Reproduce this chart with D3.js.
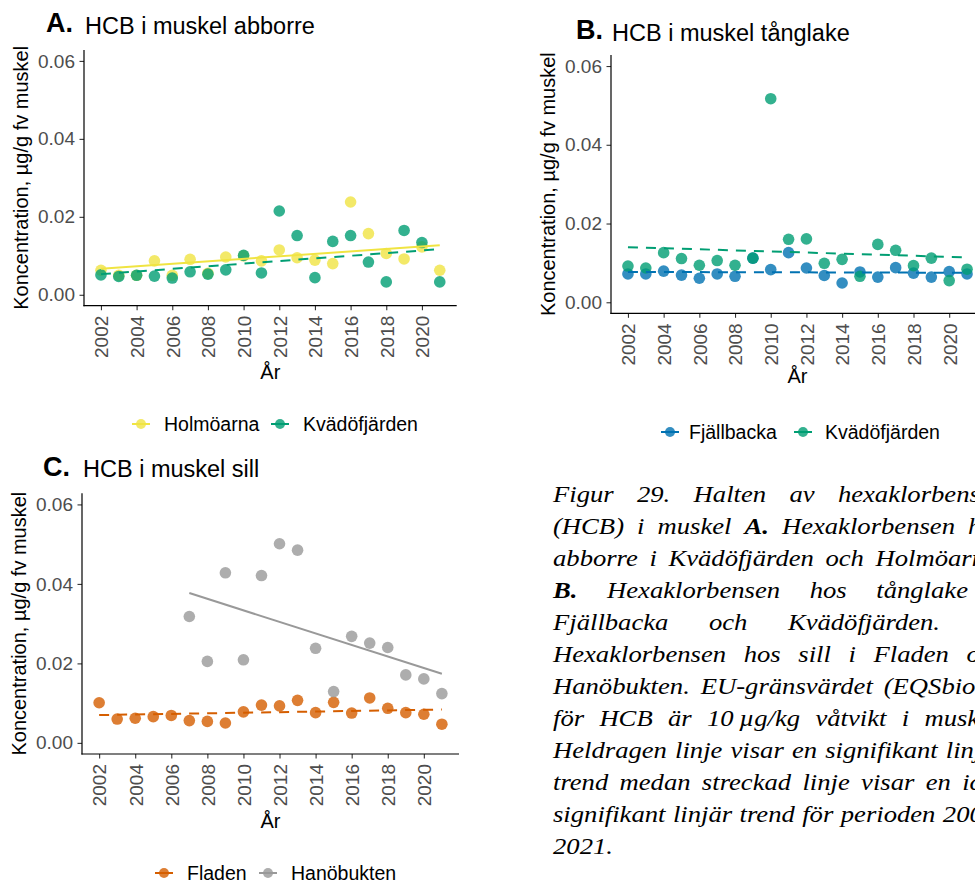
<!DOCTYPE html>
<html>
<head>
<meta charset="utf-8">
<script src="https://cdn.jsdelivr.net/npm/d3@7"></script>
<style>
html,body{margin:0;padding:0;background:#fff;overflow:hidden;}
svg{display:block;}
</style>
</head>
<body>
<script>
// ---------------- DATA ----------------
const years = [2002,2003,2004,2005,2006,2007,2008,2009,2010,2011,2012,2013,2014,2015,2016,2017,2018,2019,2020,2021];
const xTickValues = [2002,2004,2006,2008,2010,2012,2014,2016,2018,2020];
const yTickValues = [0.00,0.02,0.04,0.06];

// A. abborre
const abborreHolmoarna   = [0.0063,0.0050,0.0050,0.0087,0.0050,0.0091,0.0055,0.0097,0.0100,0.0087,0.0115,0.0095,0.0089,0.0080,0.0238,0.0157,0.0106,0.0092,0.0123,0.0063];
const abborreKvadofjarden= [0.0051,0.0047,0.0050,0.0048,0.0043,0.0059,0.0053,0.0064,0.0101,0.0056,0.0215,0.0152,0.0044,0.0137,0.0152,0.0084,0.0033,0.0165,0.0134,0.0033];
const trendAbborreHolmoarna    = [0.0067,0.0127];
const trendAbborreKvadofjarden = [0.0053,0.0117];

// B. tånglake
const tanglakeFjallbacka   = [0.0072,0.0072,0.0079,0.0069,0.0061,0.0072,0.0066,0.0112,0.0083,0.0126,0.0087,0.0068,0.0049,0.0077,0.0064,0.0088,0.0074,0.0064,0.0078,0.0072];
const tanglakeKvadofjarden = [0.0092,0.0087,0.0126,0.0111,0.0094,0.0106,0.0094,0.0112,0.0517,0.0160,0.0161,0.0099,0.0109,0.0066,0.0147,0.0132,0.0093,0.0112,0.0055,0.0084];
const trendTanglakeFjallbacka   = [0.0077,0.0075];
const trendTanglakeKvadofjarden = [0.0140,0.0114];

// C. sill
const sillFladen     = [0.0101,0.0060,0.0062,0.0066,0.0069,0.0056,0.0054,0.0050,0.0078,0.0095,0.0093,0.0107,0.0076,0.0102,0.0075,0.0113,0.0087,0.0076,0.0072,0.0047];
const sillHanobukten = [null,null,null,null,null,0.0318,0.0205,0.0428,0.0209,0.0421,0.0501,0.0485,0.0238,0.0129,0.0268,0.0251,0.0240,0.0171,0.0161,0.0124];
const trendSillFladen     = [0.0070,0.0084];
const trendSillHanobukten = [0.0377,0.0174];
const trendYearsFull = [2002,2021];
const trendYearsHano = [2007,2021];

const yAxisTitle = "Koncentration, µg/g fv muskel";
const xAxisTitle = "År";

const captionLines = [
  [["Figur 29. Halten av hexaklorbensen",0]],
  [["(HCB) i muskel ",0],["A.",1],[" Hexaklorbensen hos",0]],
  [["abborre i Kvädöfjärden och Holmöarna.",0]],
  [["B.",1],[" Hexaklorbensen hos tånglake i",0]],
  [["Fjällbacka och Kvädöfjärden. ",0],["C.",1]],
  [["Hexaklorbensen hos sill i Fladen och",0]],
  [["Hanöbukten. EU-gränsvärdet (EQSbiota)",0]],
  [["för HCB är 10\u2009µg/kg våtvikt i muskel.",0]],
  [["Heldragen linje visar en signifikant linjär",0]],
  [["trend medan streckad linje visar en icke",0]],
  [["signifikant linjär trend för perioden 2002-",0]],
  [["2021.",0]]
];

// ---------------- STYLE ----------------
const COL = {yellow:"#F0E442", green:"#009E73", blue:"#0072B2", orange:"#D55E00", gray:"#999999"};
const SANS = "'Liberation Sans', Arial, sans-serif";
const SERIF = "'Liberation Serif', 'Times New Roman', serif";

const panels = [
  {letter:"A.", title:"HCB i muskel abborre", left:84, right:456.7, top:50, bottom:305.7,
   letterX:46, letterY:32, titleX:85, titleY:34.3, yTitleX:27.5, xTitleY:379,
   series:[
     {name:"Holmöarna", values:abborreHolmoarna, color:COL.yellow, trend:trendAbborreHolmoarna, trendYears:trendYearsFull, dashed:false},
     {name:"Kvädöfjärden", values:abborreKvadofjarden, color:COL.green, trend:trendAbborreKvadofjarden, trendYears:trendYearsFull, dashed:true}
   ],
   legendY:424, legendKeys:[141,280], legendTexts:[164,303]},
  {letter:"B.", title:"HCB i muskel tånglake", left:611, right:984, top:55, bottom:313.3,
   letterX:576, letterY:39, titleX:612, titleY:40.7, yTitleX:554.5, xTitleY:383.3,
   series:[
     {name:"Fjällbacka", values:tanglakeFjallbacka, color:COL.blue, trend:trendTanglakeFjallbacka, trendYears:trendYearsFull, dashed:true},
     {name:"Kvädöfjärden", values:tanglakeKvadofjarden, color:COL.green, trend:trendTanglakeKvadofjarden, trendYears:trendYearsFull, dashed:true}
   ],
   legendY:432, legendKeys:[670,803], legendTexts:[689,825]},
  {letter:"C.", title:"HCB i muskel sill", left:82, right:459, top:493.3, bottom:754,
   letterX:43, letterY:475.7, titleX:83, titleY:477.3, yTitleX:26, xTitleY:828.3,
   series:[
     {name:"Fladen", values:sillFladen, color:COL.orange, trend:trendSillFladen, trendYears:trendYearsFull, dashed:true},
     {name:"Hanöbukten", values:sillHanobukten, color:COL.gray, trend:trendSillHanobukten, trendYears:trendYearsHano, dashed:false}
   ],
   legendY:873, legendKeys:[164,268], legendTexts:[187,291]}
];

const svg = d3.select("body").append("svg").attr("width",975).attr("height",884)
  .style("background","#fff");

panels.forEach(p=>{
  const x = d3.scaleLinear().domain([2001.05,2021.95]).range([p.left,p.right]);
  const y = d3.scaleLinear().domain([-0.0028,0.0628]).range([p.bottom,p.top]);
  const g = svg.append("g");

  // titles
  g.append("text").attr("x",p.letterX).attr("y",p.letterY)
    .attr("font-family",SANS).attr("font-weight","bold").attr("font-size",27).attr("fill","#000").text(p.letter);
  g.append("text").attr("x",p.titleX).attr("y",p.titleY)
    .attr("font-family",SANS).attr("font-size",23.5).attr("fill","#000").text(p.title);

  // axes
  const yAxis = d3.axisLeft(y).tickValues(yTickValues).tickFormat(d3.format(".2f")).tickSizeInner(4.5).tickSizeOuter(0).tickPadding(4.5);
  const gy = g.append("g").attr("transform",`translate(${p.left},0)`).call(yAxis);
  gy.select(".domain").remove();
  gy.selectAll(".tick line").attr("stroke","#333").attr("stroke-width",1.1);
  gy.selectAll(".tick text").attr("font-family",SANS).attr("font-size",19).attr("fill","#4D4D4D");

  const xAxis = d3.axisBottom(x).tickValues(xTickValues).tickFormat(d3.format("d")).tickSizeInner(4.5).tickSizeOuter(0).tickPadding(4);
  const gx = g.append("g").attr("transform",`translate(0,${p.bottom})`).call(xAxis);
  gx.select(".domain").remove();
  gx.selectAll(".tick line").attr("stroke","#333").attr("stroke-width",1.1);
  gx.selectAll(".tick text").attr("font-family",SANS).attr("font-size",19).attr("fill","#4D4D4D")
    .attr("transform","rotate(-90)").attr("text-anchor","end").attr("dy","0.36em").attr("x",-10).attr("y",0);

  // axis lines
  g.append("line").attr("x1",p.left).attr("x2",p.left).attr("y1",p.top).attr("y2",p.bottom+0.6)
    .attr("stroke","#000").attr("stroke-width",1.2);
  g.append("line").attr("x1",p.left-0.6).attr("x2",p.right).attr("y1",p.bottom).attr("y2",p.bottom)
    .attr("stroke","#000").attr("stroke-width",1.2);

  // axis titles
  g.append("text").attr("transform",`translate(${p.yTitleX},${(p.top+p.bottom)/2}) rotate(-90)`)
    .attr("text-anchor","middle").attr("font-family",SANS).attr("font-size",20).attr("fill","#000").text(yAxisTitle);
  g.append("text").attr("x",(p.left+p.right)/2).attr("y",p.xTitleY).attr("text-anchor","middle")
    .attr("font-family",SANS).attr("font-size",20).attr("fill","#000").text(xAxisTitle);

  // points
  p.series.forEach(s=>{
    const pts = years.map((yr,i)=>({yr, v:s.values[i]})).filter(d=>d.v!=null);
    g.append("g").selectAll("circle").data(pts).join("circle")
      .attr("cx",d=>x(d.yr)).attr("cy",d=>y(d.v)).attr("r",5.8)
      .attr("fill",s.color).attr("fill-opacity",0.8);
  });
  // trend lines
  p.series.forEach(s=>{
    const line = d3.line().x(d=>x(d[0])).y(d=>y(d[1]));
    g.append("path").datum([[s.trendYears[0],s.trend[0]],[s.trendYears[1],s.trend[1]]])
      .attr("d",line).attr("fill","none").attr("stroke",s.color).attr("stroke-width",2)
      .attr("stroke-dasharray",s.dashed?"10,8":null);
  });

  // legend
  p.series.forEach((s,i)=>{
    const kx = p.legendKeys[i];
    g.append("line").attr("x1",kx-9).attr("x2",kx+9).attr("y1",p.legendY).attr("y2",p.legendY)
      .attr("stroke",s.color).attr("stroke-width",2);
    g.append("circle").attr("cx",kx).attr("cy",p.legendY).attr("r",5).attr("fill",s.color).attr("fill-opacity",0.8);
    g.append("text").attr("x",p.legendTexts[i]).attr("y",p.legendY).attr("dy","0.35em")
      .attr("font-family",SANS).attr("font-size",19.5).attr("fill","#000").text(s.name);
  });
});

// caption (justified lines, slightly widened glyphs like the reference)
const capX = 553, capScaleX = 1.11, capW = 452 / 1.11, capBase0 = 501.5, capLH = 32.05;
const cap = svg.append("g");
captionLines.forEach((segs,i)=>{
  const t = cap.append("text")
    .attr("transform",`translate(${capX},${capBase0+i*capLH}) scale(${capScaleX},1)`)
    .attr("x",0).attr("y",0)
    .attr("font-family",SERIF).attr("font-style","italic").attr("font-size",24).attr("fill","#000")
    .attr("xml:space","preserve").style("white-space","pre");
  segs.forEach(s=>{ t.append("tspan").attr("font-weight",s[1]?"bold":null).text(s[0]); });
  if(i < captionLines.length-1){
    const len = t.node().getComputedTextLength();
    const full = segs.map(s=>s[0]).join("");
    const n = (full.match(/ /g)||[]).length;
    if(n>0) t.style("word-spacing", Math.max(0,(capW-len)/n)+"px");
  }
});
</script>
</body>
</html>
